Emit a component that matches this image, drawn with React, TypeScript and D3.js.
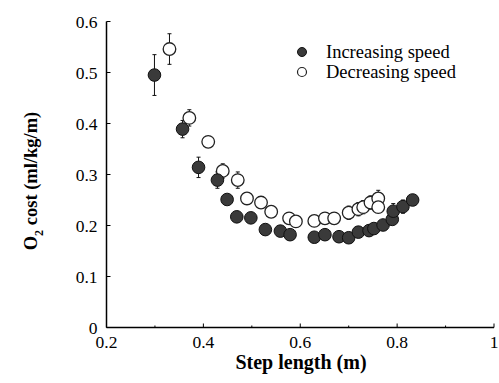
import React from "react";
import * as d3 from "d3";

// Increasing speed (filled)
const incX = [0.299, 0.357, 0.39, 0.429, 0.449, 0.469, 0.498, 0.528, 0.559, 0.579, 0.629, 0.651, 0.68, 0.70, 0.72, 0.742, 0.752, 0.771, 0.79, 0.792, 0.812, 0.832];
const incY = [0.495, 0.389, 0.314, 0.289, 0.251, 0.217, 0.215, 0.192, 0.189, 0.182, 0.177, 0.182, 0.178, 0.176, 0.187, 0.19, 0.194, 0.201, 0.212, 0.228, 0.237, 0.25];
const incErr = [0.04, 0.017, 0.02, 0.016, 0.012, 0.012, 0.012, 0.01, 0.01, 0.01, 0.01, 0.01, 0.01, 0.01, 0.01, 0.01, 0.01, 0.01, 0.012, 0.015, 0.013, 0.012];

// Decreasing speed (open)
const decX = [0.33, 0.371, 0.41, 0.44, 0.471, 0.49, 0.519, 0.54, 0.577, 0.591, 0.629, 0.651, 0.67, 0.70, 0.72, 0.73, 0.745, 0.761, 0.761];
const decY = [0.546, 0.411, 0.364, 0.307, 0.289, 0.253, 0.245, 0.227, 0.214, 0.208, 0.209, 0.214, 0.214, 0.225, 0.232, 0.236, 0.245, 0.253, 0.236];
const decErr = [0.03, 0.016, 0.01, 0.014, 0.016, 0.01, 0.01, 0.01, 0.01, 0.01, 0.01, 0.01, 0.01, 0.013, 0.013, 0.013, 0.013, 0.016, 0.01];

const xTicks = [0.2, 0.4, 0.6, 0.8, 1];
const xTickLabels = ["0.2", "0.4", "0.6", "0.8", "1"];
const yTicks = [0, 0.1, 0.2, 0.3, 0.4, 0.5, 0.6];
const yTickLabels = ["0", "0.1", "0.2", "0.3", "0.4", "0.5", "0.6"];
const legendLabels = ["Increasing speed", "Decreasing speed"];

export default function App() {
  const W = 499, H = 383;
  const left = 106.5, right = 494, top = 21.5, bottom = 327.5;
  const x = d3.scaleLinear().domain([0.2, 1]).range([left, right]);
  const y = d3.scaleLinear().domain([0, 0.6]).range([bottom, top]);
  const font = "Liberation Serif, Times New Roman, Times, serif";
  const r = 6.3;
  const minorX = d3.range(0.3, 1.0, 0.2);

  const errBar = (cx: number, cy: number, e: number, key: string) => {
    const px = x(cx);
    const y1 = y(cy + e), y2 = y(cy - e);
    if (Math.abs(y2 - y1) / 2 <= r) return null;
    return (
      <g key={key} stroke="#111" strokeWidth={1}>
        <line x1={px} x2={px} y1={y1} y2={y2} />
        <line x1={px - 2} x2={px + 2} y1={y1} y2={y1} />
        <line x1={px - 2} x2={px + 2} y1={y2} y2={y2} />
      </g>
    );
  };

  return (
    <svg width={W} height={H} style={{ position: "absolute", left: 0, top: 0, background: "#fff", fontFamily: font }}>
      {/* axes */}
      <line x1={left} x2={left} y1={top} y2={bottom} stroke="#000" strokeWidth={1.5} />
      <line x1={left} x2={right} y1={bottom} y2={bottom} stroke="#000" strokeWidth={1.5} />
      {yTicks.map((t, i) => (
        <g key={"yt" + i}>
          <line x1={left} x2={left + 4} y1={y(t)} y2={y(t)} stroke="#000" strokeWidth={1} />
          <text x={left - 9} y={y(t) + 6} textAnchor="end" fontSize={17.5} style={{ fontFamily: font }}>{yTickLabels[i]}</text>
        </g>
      ))}
      {xTicks.map((t, i) => (
        <g key={"xt" + i}>
          <line x1={x(t)} x2={x(t)} y1={bottom} y2={bottom - 4} stroke="#000" strokeWidth={1} />
          <text x={x(t)} y={bottom + 20.5} textAnchor="middle" fontSize={17.5} style={{ fontFamily: font }}>{xTickLabels[i]}</text>
        </g>
      ))}
      {minorX.map((t, i) => (
        <line key={"mx" + i} x1={x(t)} x2={x(t)} y1={bottom} y2={bottom - 2} stroke="#000" strokeWidth={1} />
      ))}

      {/* axis titles */}
      <text x={301} y={369} textAnchor="middle" fontSize={20} fontWeight="bold" style={{ fontFamily: font }}>Step length (m)</text>
      <text transform={`translate(37, 181) rotate(-90)`} textAnchor="middle" fontSize={18.5} fontWeight="bold" style={{ fontFamily: font }}>
        O<tspan dy={6} fontSize={12}>2</tspan><tspan dy={-6}> cost (ml/kg/m)</tspan>
      </text>

      {/* error bars */}
      {incX.map((v, i) => errBar(v, incY[i], incErr[i], "ie" + i))}
      {decX.map((v, i) => errBar(v, decY[i], decErr[i], "de" + i))}

      {/* open points */}
      {decX.map((v, i) => (
        <circle key={"d" + i} cx={x(v)} cy={y(decY[i])} r={r} fill="#fff" stroke="#222" strokeWidth={1.3} />
      ))}
      {/* filled points */}
      {incX.map((v, i) => (
        <circle key={"i" + i} cx={x(v)} cy={y(incY[i])} r={r} fill="#3a3a3a" stroke="#111" strokeWidth={1} />
      ))}

      {/* legend */}
      <circle cx={302} cy={52} r={4.5} fill="#3a3a3a" stroke="#111" strokeWidth={1} />
      <text x={326} y={58} fontSize={18.5} style={{ fontFamily: font }}>{legendLabels[0]}</text>
      <circle cx={302} cy={72} r={4.5} fill="#fff" stroke="#222" strokeWidth={1.2} />
      <text x={326} y={78} fontSize={18.5} style={{ fontFamily: font }}>{legendLabels[1]}</text>
    </svg>
  );
}
